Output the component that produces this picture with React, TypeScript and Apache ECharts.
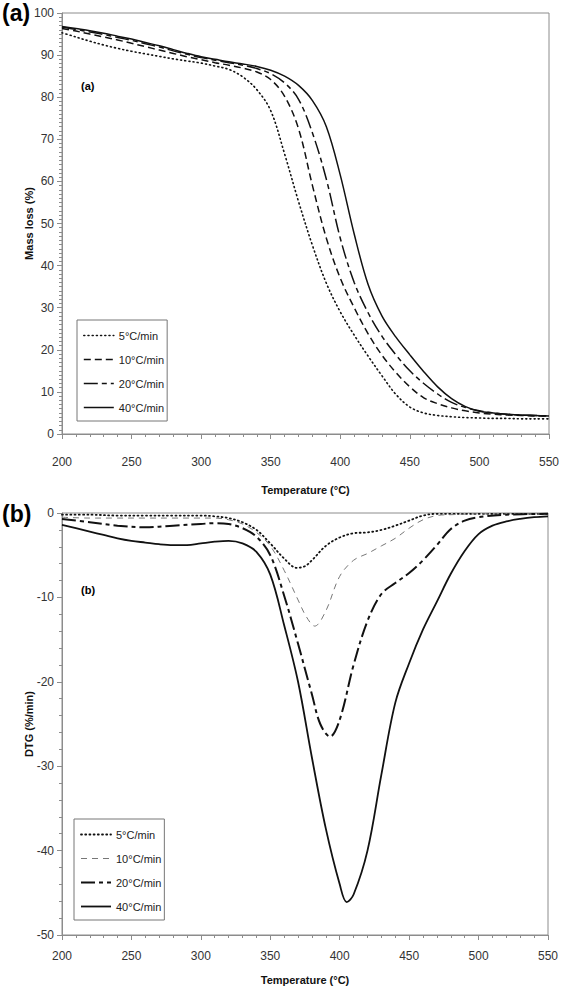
import React, { useEffect, useRef } from "react";
import * as echarts from "echarts";

const seriesNames = ["5°C/min", "10°C/min", "20°C/min", "40°C/min"];
const xTickValues = [200, 250, 300, 350, 400, 450, 500, 550];

// Panel (a): mass loss (%)
const tgaTemps = [200, 210, 220, 230, 240, 250, 260, 270, 280, 290, 300, 310, 320, 330, 340, 350, 360, 370, 380, 390, 400, 410, 420, 430, 440, 450, 460, 470, 480, 490, 500, 510, 520, 530, 540, 550];
const tga5 = [95.3, 94.3, 93.3, 92.4, 91.6, 90.9, 90.3, 89.7, 89.1, 88.6, 88.1, 87.4, 86.6, 84.8, 81.8, 76.8, 66.5, 55.2, 44.8, 35.8, 29.0, 23.5, 18.5, 13.8, 9.4, 6.4, 5.0, 4.4, 4.1, 3.9, 3.8, 3.7, 3.7, 3.6, 3.6, 3.6];
const tga10 = [96.3, 95.7, 95.0, 94.3, 93.6, 92.8, 92.0, 91.2, 90.4, 89.6, 88.9, 88.2, 87.6, 86.9, 86.0, 84.2, 80.2, 72.5, 59.0, 46.5, 37.0, 30.0, 23.8, 18.7, 14.6, 11.2, 8.6, 7.2, 6.2, 5.5, 5.0, 4.7, 4.5, 4.4, 4.3, 4.3];
const tga20 = [96.6, 96.1, 95.5, 94.9, 94.2, 93.5, 92.7, 91.9, 91.0, 90.2, 89.4, 88.8, 88.2, 87.6, 86.8, 85.6, 83.4, 79.5, 71.5, 60.5, 46.5, 36.0, 28.8, 23.2, 18.8, 15.0, 12.0, 9.5, 7.5, 6.3, 5.5, 5.0, 4.7, 4.5, 4.4, 4.3];
const tga40 = [96.8, 96.3, 95.8, 95.2, 94.5, 93.8, 93.0, 92.2, 91.3, 90.4, 89.6, 89.0, 88.4, 87.9, 87.3, 86.4, 85.0, 82.8, 79.2, 73.0, 61.5, 47.5, 35.5, 28.0, 23.0, 18.8, 14.8, 11.2, 8.4, 6.5, 5.4, 5.0, 4.7, 4.5, 4.4, 4.3];

// Panel (b): DTG (%/min)
const dtg5T = [200, 220, 240, 260, 280, 300, 310, 320, 330, 340, 350, 360, 369, 375, 380, 390, 400, 410, 420, 430, 440, 450, 460, 470, 480, 500, 520, 550];
const dtg5 = [-0.2, -0.2, -0.3, -0.3, -0.3, -0.3, -0.4, -0.6, -1.1, -2.0, -3.6, -5.4, -6.5, -6.3, -5.6, -3.9, -2.9, -2.4, -2.3, -2.0, -1.5, -0.9, -0.3, -0.1, -0.1, -0.1, -0.1, -0.1];
const dtg10T = [200, 220, 240, 260, 280, 300, 310, 320, 330, 340, 350, 360, 370, 376, 382, 390, 400, 410, 420, 430, 440, 450, 460, 470, 480, 500, 520, 550];
const dtg10 = [-0.5, -0.6, -0.6, -0.6, -0.6, -0.6, -0.6, -0.8, -1.3, -2.3, -3.9, -6.8, -10.3, -12.3, -13.4, -11.6, -7.5, -5.6, -4.8, -3.9, -3.0, -1.8, -0.8, -0.3, -0.2, -0.1, -0.1, -0.1];
const dtg20T = [200, 220, 240, 260, 280, 300, 310, 320, 330, 340, 350, 360, 370, 380, 386, 393, 400, 410, 420, 430, 440, 450, 460, 470, 480, 490, 500, 520, 550];
const dtg20 = [-0.7, -1.1, -1.5, -1.7, -1.5, -1.3, -1.2, -1.3, -1.8, -2.8, -5.0, -9.8, -15.5, -21.5, -25.0, -26.5, -24.5, -18.0, -12.8, -9.6, -8.3, -7.1, -5.6, -3.8, -1.9, -0.9, -0.5, -0.2, -0.1];
const dtg40T = [200, 210, 220, 230, 240, 250, 260, 270, 280, 290, 300, 310, 320, 330, 340, 350, 360, 370, 380, 390, 400, 405, 410, 420, 430, 440, 450, 460, 470, 480, 490, 500, 510, 520, 530, 540, 550];
const dtg40 = [-1.4, -1.8, -2.2, -2.6, -3.0, -3.3, -3.5, -3.7, -3.8, -3.8, -3.6, -3.4, -3.3, -3.6, -4.6, -7.3, -13.3, -20.0, -29.0, -37.4, -44.0, -46.1, -45.2, -40.0, -31.0, -22.5, -17.8, -13.8, -10.5, -7.2, -4.5, -2.5, -1.5, -1.0, -0.7, -0.5, -0.4];

const FONT = "'Liberation Sans', Arial, sans-serif";
const AX = "#8c8c8c";

const zip = (xs: number[], ys: number[]) => xs.map((x, i) => [x, ys[i]]);

const topStyles = [
  { color: "#111", width: 1.6, type: [1, 3.2], cap: "round" },
  { color: "#111", width: 1.5, type: [7, 4] },
  { color: "#111", width: 1.5, type: [14, 4, 5, 4] },
  { color: "#111", width: 1.5, type: "solid" },
];
const botStyles = [
  { color: "#111", width: 1.8, type: [1, 3.2], cap: "round" },
  { color: "#777", width: 1, type: [6, 5] },
  { color: "#111", width: 2, type: [14, 4, 4, 4] },
  { color: "#111", width: 1.8, type: "solid" },
];

function xAxisCfg(gridIndex: number, labelMargin: number, nameGap: number) {
  return {
    type: "value",
    gridIndex,
    min: 200,
    max: 550,
    interval: 50,
    name: "Temperature (°C)",
    nameLocation: "middle",
    nameGap,
    nameMoveOverlap: false,
    nameTextStyle: { fontFamily: FONT, fontWeight: "bold", fontSize: 11, color: "#111" },
    axisLine: { show: true, onZero: false, lineStyle: { color: AX, width: 1 } },
    axisTick: { show: true, length: 5, lineStyle: { color: AX } },
    minorTick: { show: true, splitNumber: 5, length: 3, lineStyle: { color: AX } },
    splitLine: { show: false },
    axisLabel: {
      fontFamily: FONT,
      fontSize: 12,
      color: "#333",
      margin: labelMargin,
      formatter: (v: number) => (xTickValues.includes(v) ? String(v) : ""),
    },
  };
}

function yAxisCfg(gridIndex: number, min: number, max: number, name: string, minorSplit: number) {
  return {
    type: "value",
    gridIndex,
    min,
    max,
    interval: 10,
    name,
    nameLocation: "middle",
    nameGap: 28,
    nameMoveOverlap: false,
    nameTextStyle: { fontFamily: FONT, fontWeight: "bold", fontSize: 11, color: "#111" },
    axisLine: { show: true, onZero: false, lineStyle: { color: AX } },
    axisTick: { show: true, length: 5, lineStyle: { color: AX } },
    minorTick: { show: true, splitNumber: minorSplit, length: 3, lineStyle: { color: AX } },
    splitLine: { show: false },
    axisLabel: { fontFamily: FONT, fontSize: 12, color: "#333", margin: 8 },
  };
}

export default function App() {
  const ref = useRef<HTMLDivElement>(null);
  useEffect(() => {
    if (!ref.current) return;
    const chart = echarts.init(ref.current, null, { renderer: "svg" });
    const legendBase = {
      orient: "vertical",
      itemWidth: 30,
      itemHeight: 10,
      itemGap: 13,
      padding: [10, 3, 8, 6],
      borderColor: "#777",
      borderWidth: 1,
      backgroundColor: "#fff",
      itemStyle: { opacity: 0, borderWidth: 0 },
      textStyle: { fontFamily: FONT, fontSize: 11, color: "#222" },
      selectedMode: false,
    };
    chart.setOption({
      animation: false,
      backgroundColor: "#fff",
      grid: [
        { left: 62, right: 18, top: 13, height: 421, show: true, borderColor: AX, borderWidth: 1 },
        { left: 62, right: 19, top: 513, height: 422, show: true, borderColor: AX, borderWidth: 1 },
      ],
      xAxis: [xAxisCfg(0, 22, 50), xAxisCfg(1, 15, 39)],
      yAxis: [yAxisCfg(0, 0, 100, "Mass loss (%)", 10), yAxisCfg(1, -50, 0, "DTG (%/min)", 5)],
      legend: [
        {
          ...legendBase,
          left: 77,
          top: 320,
          data: seriesNames.map((n, i) => ({ name: n, lineStyle: topStyles[i], itemStyle: { opacity: 0 } })),
        },
        {
          ...legendBase,
          left: 74,
          top: 819,
          data: seriesNames.map((n, i) => ({ name: n, lineStyle: botStyles[i], itemStyle: { opacity: 0 } })),
        },
      ],
      graphic: [
        { type: "text", left: 2, top: 1, style: { text: "(a)", font: `bold 23px ${FONT}`, fill: "#000" } },
        { type: "text", left: 2, top: 502, style: { text: "(b)", font: `bold 23px ${FONT}`, fill: "#000" } },
        { type: "text", left: 81, top: 80, style: { text: "(a)", font: `bold 11px ${FONT}`, fill: "#000" } },
        { type: "text", left: 81, top: 584, style: { text: "(b)", font: `bold 11px ${FONT}`, fill: "#000" } },
      ],
      series: [
        ...[tga5, tga10, tga20, tga40].map((d, i) => ({
          type: "line",
          name: seriesNames[i],
          xAxisIndex: 0,
          yAxisIndex: 0,
          data: zip(tgaTemps, d),
          showSymbol: false,
          symbol: "none",
          smooth: 0.35,
          lineStyle: topStyles[i],
          itemStyle: { color: topStyles[i].color },
          z: 3 + i,
        })),
        ...[
          [dtg5T, dtg5],
          [dtg10T, dtg10],
          [dtg20T, dtg20],
          [dtg40T, dtg40],
        ].map(([t, d], i) => ({
          type: "line",
          name: seriesNames[i],
          xAxisIndex: 1,
          yAxisIndex: 1,
          data: zip(t, d),
          showSymbol: false,
          symbol: "none",
          smooth: 0.35,
          lineStyle: botStyles[i],
          itemStyle: { color: botStyles[i].color },
          z: 3 + i,
        })),
      ],
    });
    return () => chart.dispose();
  }, []);
  return (
    <div
      ref={ref}
      style={{ position: "absolute", left: 0, top: 0, width: 567, height: 996, background: "#fff" }}
    />
  );
}
